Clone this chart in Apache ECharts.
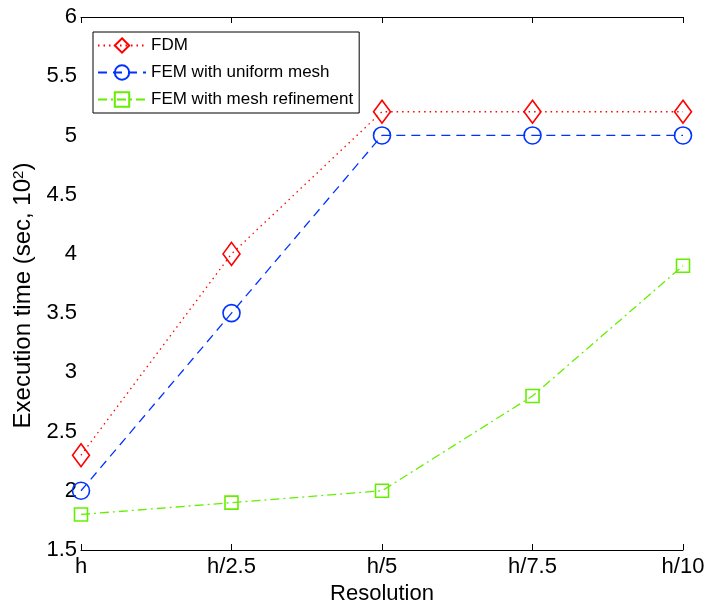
<!DOCTYPE html>
<html><head><meta charset="utf-8">
<script src="https://cdn.jsdelivr.net/npm/echarts@6/dist/echarts.min.js"></script>
<style>html,body{margin:0;padding:0;background:#fff}#c{width:705px;height:602px}</style>
</head><body><div id="c"></div>
<script>
const categories = ['h', 'h/2.5', 'h/5', 'h/7.5', 'h/10'];
const fdm = [2.3, 4.0, 5.2, 5.2, 5.2];
const femUniform = [2.0, 3.5, 5.0, 5.0, 5.0];
const femRefine = [1.8, 1.9, 2.0, 2.8, 3.9];
const seriesNames = ['FDM', 'FEM with uniform mesh', 'FEM with mesh refinement'];

const font = '"Liberation Sans", Arial, sans-serif';
const chart = echarts.init(document.getElementById('c'));
const axisBase = {
  axisLine: {lineStyle: {color: '#000', width: 1}},
  axisTick: {inside: true, length: 6, lineStyle: {color: '#000'}},
  splitLine: {show: false}
};
function mk(name, data, color, symbol, size, dash) {
  return {
    name, type: 'line', data, xAxisIndex: 0, yAxisIndex: 0,
    symbol, symbolSize: size, showAllSymbol: true,
    lineStyle: {color, width: 1.3, type: dash},
    itemStyle: {color: 'rgba(0,0,0,0)', borderColor: color, borderWidth: 1.6},
    emphasis: {disabled: true}, animation: false, z: 3
  };
}
chart.setOption({
  animation: false,
  grid: {left: 81, right: 22, top: 17, bottom: 52, containLabel: false, outerBoundsMode: 'none'},
  legend: {
    data: seriesNames, orient: 'vertical', left: 93, top: 32,
    backgroundColor: '#fff', borderColor: '#000', borderWidth: 1,
    padding: [5, 6, 5, 4], itemGap: 10, itemWidth: 48, itemHeight: 18,
    textStyle: {fontFamily: font, fontSize: 17, color: '#000'}
  },
  xAxis: [
    Object.assign({}, axisBase, {type: 'category', data: categories, boundaryGap: false, position: 'bottom',
      axisLabel: {fontFamily: font, fontSize: 22, color: '#000', margin: 6},
      name: 'Resolution', nameLocation: 'middle', nameGap: 28,
      nameTextStyle: {fontFamily: font, fontSize: 22, color: '#000'}}),
    Object.assign({}, axisBase, {type: 'category', data: categories, boundaryGap: false, position: 'top',
      axisLabel: {show: false}})
  ],
  yAxis: [
    Object.assign({}, axisBase, {type: 'value', min: 1.5, max: 6, interval: 0.5, position: 'left',
      axisLabel: {fontFamily: font, fontSize: 22, color: '#000', margin: 4},
      name: 'Execution time (sec, 10{sup|2})', nameLocation: 'middle', nameGap: 42, nameRotate: 90,
      nameTextStyle: {fontFamily: font, fontSize: 24, color: '#000', padding: [0, 24, 0, 0],
        rich: {sup: {fontFamily: font, fontSize: 15, color: '#000', verticalAlign: 'bottom', padding: [0, 0, 10, 0]}}}}),
    Object.assign({}, axisBase, {type: 'value', min: 1.5, max: 6, interval: 0.5, position: 'right',
      axisLabel: {show: false}})
  ],
  series: [
    mk(seriesNames[0], fdm, '#ff0000', 'diamond', [17, 23], [1.5, 4]),
    mk(seriesNames[1], femUniform, '#0033ff', 'circle', 17, [9, 6]),
    mk(seriesNames[2], femRefine, '#66ee00', 'rect', 13, [9, 4, 2, 4])
  ]
});
</script></body></html>
